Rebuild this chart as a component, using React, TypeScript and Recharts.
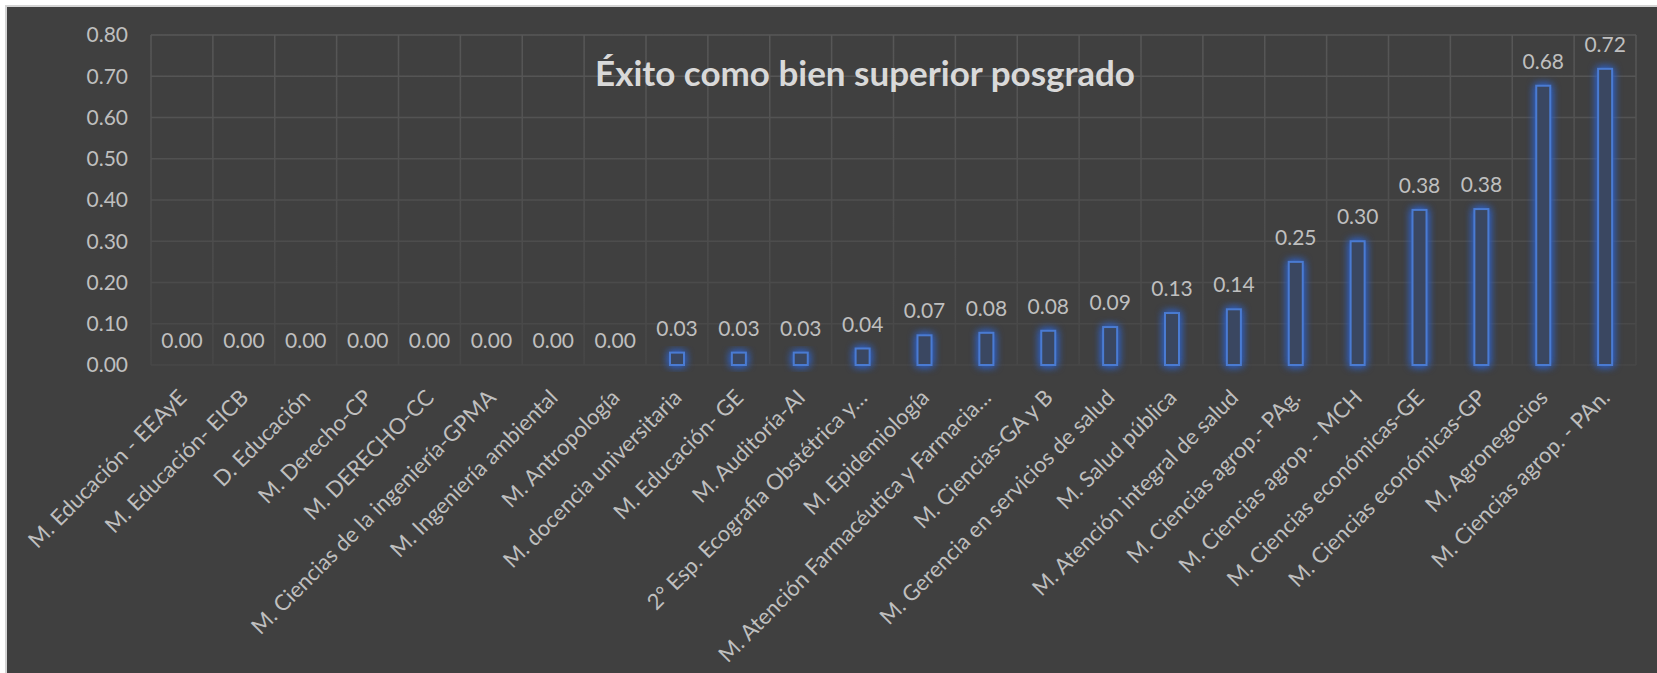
import React from "react";
import {
  BarChart,
  Bar,
  XAxis,
  YAxis,
  CartesianGrid,
  LabelList,
} from "recharts";

const PROGRAMS = [
  "M. Educación - EEAyE",
  "M. Educación- EICB",
  "D. Educación",
  "M. Derecho-CP",
  "M. DERECHO-CC",
  "M. Ciencias de la ingeniería-GPMA",
  "M. Ingeniería ambiental",
  "M. Antropología",
  "M. docencia universitaria",
  "M. Educación- GE",
  "M. Auditoría-AI",
  "2° Esp. Ecografia Obstétrica y…",
  "M. Epidemiología",
  "M. Atención Farmacéutica y Farmacia…",
  "M. Ciencias-GA y B",
  "M. Gerencia en servicios de salud",
  "M. Salud pública",
  "M.  Atención integral de salud",
  "M. Ciencias agrop.- PAg.",
  "M. Ciencias agrop. - MCH",
  "M. Ciencias económicas-GE",
  "M. Ciencias económicas-GP",
  "M. Agronegocios",
  "M. Ciencias agrop. - PAn.",
];

const EXITO = [
  0, 0, 0, 0, 0, 0, 0, 0, 0.03, 0.03, 0.03, 0.04, 0.072, 0.078, 0.083, 0.092,
  0.126, 0.135, 0.25, 0.3, 0.376, 0.378, 0.677, 0.718,
];

const Y_TICKS = [0, 0.1, 0.2, 0.3, 0.4, 0.5, 0.6, 0.7, 0.8];

const TITLE = "Éxito como bien superior posgrado";

const data = PROGRAMS.map((name, i) => ({ name, value: EXITO[i] }));

const TEXT = "#bfbfbf";

const GlowBar = (props: any) => {
  const { x, y, width, height } = props;
  if (!height || height < 0.5) return <g />;
  return (
    <g filter="url(#barGlow)">
      <rect
        x={x}
        y={y}
        width={width}
        height={height}
        fill="#3a4761"
        stroke="#4a7bd2"
        strokeWidth={2}
      />
    </g>
  );
};

const CategoryTick = (props: any) => {
  const { x, y, payload } = props;
  return (
    <g transform={`translate(${x + 6},${y + 26}) rotate(-45)`}>
      <text textAnchor="end" fill={TEXT} fontSize={22}>
        {payload.value}
      </text>
    </g>
  );
};

const App = () => {
  return (
    <div
      style={{
        position: "relative",
        width: 1657,
        height: 673,
        background: "#ffffff",
        fontFamily: "Lato, 'Open Sans', sans-serif",
      }}
    >
      <style>{"body{margin:0}"}</style>
      <div
        style={{
          position: "absolute",
          left: 5,
          top: 5,
          right: 0,
          bottom: 0,
          background: "#404040",
          borderLeft: "2px solid #d4d4d4",
          borderTop: "2px solid #d4d4d4",
        }}
      >
        <BarChart
          width={1650}
          height={666}
          data={data}
          margin={{ top: 28, right: 21, left: 44, bottom: 28 }}
        >
          <defs>
            <linearGradient
              id="gridFade"
              gradientUnits="userSpaceOnUse"
              x1="0"
              y1="28"
              x2="0"
              y2="358"
            >
              <stop offset="0%" stopColor="#575757" />
              <stop offset="100%" stopColor="#474747" />
            </linearGradient>
            <filter
              id="barGlow"
              x="-100%"
              y="-50%"
              width="300%"
              height="200%"
              colorInterpolationFilters="sRGB"
            >
              <feGaussianBlur in="SourceAlpha" stdDeviation="4" result="blur" />
              <feFlood floodColor="#2f5fc0" floodOpacity="1" />
              <feComposite in2="blur" operator="in" result="glow" />
              <feMerge>
                <feMergeNode in="glow" />
                <feMergeNode in="glow" />
                <feMergeNode in="SourceGraphic" />
              </feMerge>
            </filter>
          </defs>
          <CartesianGrid
            stroke="url(#gridFade)"
            strokeWidth={1.5}
            verticalCoordinatesGenerator={({ offset }: any) =>
              PROGRAMS.concat([""]).map(
                (_, i) => offset.left + (i * offset.width) / PROGRAMS.length
              )
            }
          />
          <XAxis
            dataKey="name"
            interval={0}
            height={280}
            axisLine={false}
            tickLine={false}
            tick={<CategoryTick />}
          />
          <YAxis
            width={100}
            domain={[0, 0.8]}
            ticks={Y_TICKS}
            axisLine={false}
            tickLine={false}
            tickSize={0}
            tickMargin={23}
            tickFormatter={(v: number) => v.toFixed(2)}
            tick={{ fill: TEXT, fontSize: 21 }}
          />
          <Bar
            dataKey="value"
            barSize={14}
            shape={<GlowBar />}
            isAnimationActive={false}
          >
            <LabelList
              dataKey="value"
              position="top"
              offset={17}
              fill={TEXT}
              fontSize={21}
              formatter={(v: any) => Number(v).toFixed(2)}
            />
          </Bar>
        </BarChart>
        <div
          style={{
            position: "absolute",
            left: 865 - 7 - 400,
            top: 45,
            width: 800,
            textAlign: "center",
            color: "#d9d9d9",
            fontSize: 35,
            fontWeight: 700,
            lineHeight: "40px",
          }}
        >
          {TITLE}
        </div>
      </div>
    </div>
  );
};

export default App;
